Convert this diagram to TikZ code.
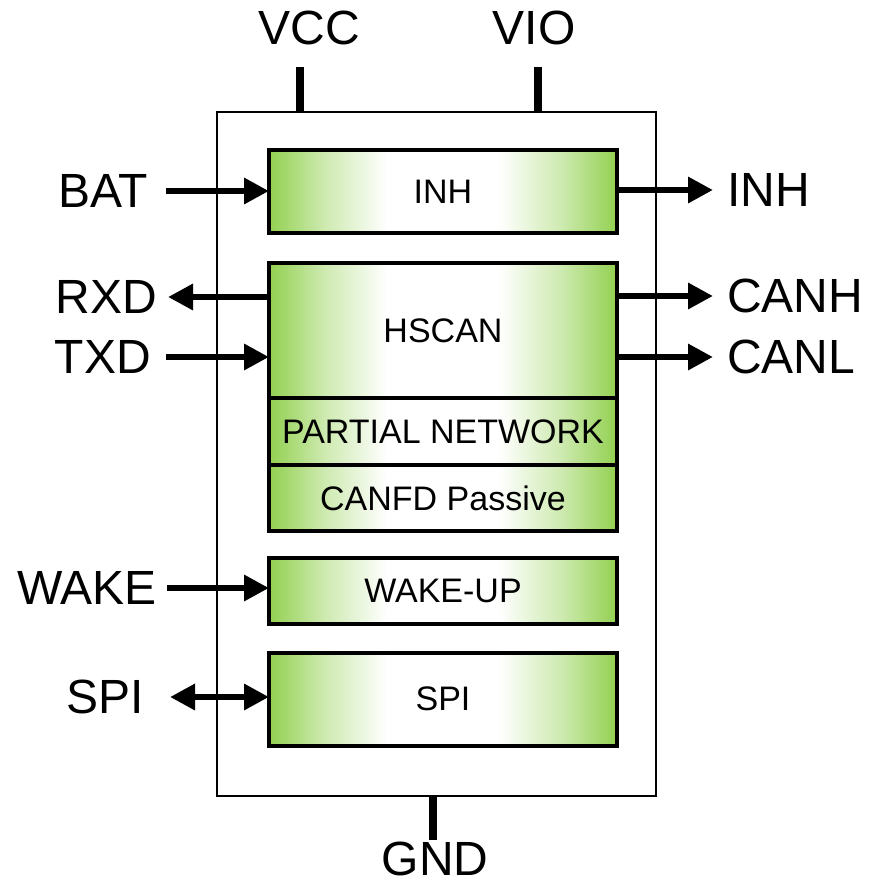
\documentclass[tikz,border=0pt]{standalone}
\usepackage{fontspec}
\setmainfont{Liberation Sans}
\usetikzlibrary{arrows.meta,positioning}
\definecolor{blkgreen}{RGB}{146,208,80}
\pgfdeclarehorizontalshading{blkshade}{100bp}{color(0bp)=(blkgreen); color(25bp)=(blkgreen); color(33bp)=(blkgreen!45!white); color(42bp)=(white); color(58bp)=(white); color(67bp)=(blkgreen!45!white); color(75bp)=(blkgreen); color(100bp)=(blkgreen)}

\begin{document}
\begin{tikzpicture}[x=1pt, y=-1pt, >={Triangle[length=25pt,width=25pt]},
	blk/.style={draw, line width=4pt, shade, shading=blkshade, minimum width=348pt, outer sep=0pt, font=\fontsize{34}{37}\selectfont},
	pinlbl/.style={font=\fontsize{48}{52}\selectfont, inner sep=0pt},
	leftlbl/.style={pinlbl, anchor=east, inner xsep=#1},
	leftlbl/.default=10pt,
	rightlbl/.style={pinlbl, anchor=west, inner xsep=14pt},
	sig/.style={line width=6.5pt},
	pinline/.style={line width=8pt}]
	\useasboundingbox (0,0) rectangle (878,884);
	% chip outline and blocks
	\node[draw, line width=2pt, minimum width=439pt, minimum height=684pt, outer sep=0pt] (chip) at (436,453.5) {};
	\node[blk, minimum height=83pt] (inh) at (443,191.5) {INH};
	\node[blk, minimum height=135pt] (hscan) at (443,330.5) {HSCAN};
	\node[blk, minimum height=67pt, below=0pt of hscan] (partial) {PARTIAL NETWORK};
	\node[blk, minimum height=66pt, below=0pt of partial] (canfd) {CANFD Passive};
	\node[blk, minimum height=66pt] (wakeup) at (443,591) {WAKE-UP};
	\node[blk, minimum height=93pt] (spi) at (443,699) {SPI};
	% supply pins
	\node[pinlbl] (vcc) at (309,28) {VCC};
	\node[pinlbl] (vio) at (534,28) {VIO};
	\node[pinlbl] (gnd) at (435,859) {GND};
	\coordinate (vccend) at (300,67);
	\coordinate (vioend) at (538,67);
	\coordinate (gndend) at (433,840);
	\draw[pinline] (vccend) -- (vccend |- chip.north);
	\draw[pinline] (vioend) -- (vioend |- chip.north);
	\draw[pinline] (gndend) -- (gndend |- chip.south);
	% signal pins
	\node[leftlbl=18pt] (bat) at (166,191) {BAT};
	\node[leftlbl=11pt] (rxd) at (168,297) {RXD};
	\node[leftlbl=15pt] (txd) at (166,357) {TXD};
	\node[leftlbl] (wake) at (167,588) {WAKE};
	\node[leftlbl=26pt] (spiin) at (170,697) {SPI};
	\node[rightlbl] (inhout) at (713,190) {INH};
	\node[rightlbl] (canh) at (713,296) {CANH};
	\node[rightlbl] (canl) at (713,357) {CANL};
	\draw[sig,->] (bat) -- (inh.west |- bat);
	\draw[sig,->] (inh.east |- inhout) -- (inhout);
	\draw[sig,->] (hscan.west |- rxd) -- (rxd);
	\draw[sig,->] (txd) -- (hscan.west |- txd);
	\draw[sig,->] (hscan.east |- canh) -- (canh);
	\draw[sig,->] (hscan.east |- canl) -- (canl);
	\draw[sig,->] (wake) -- (wakeup.west |- wake);
	\draw[sig,<->] (spiin) -- (spi.west |- spiin);
\end{tikzpicture}
\end{document}
